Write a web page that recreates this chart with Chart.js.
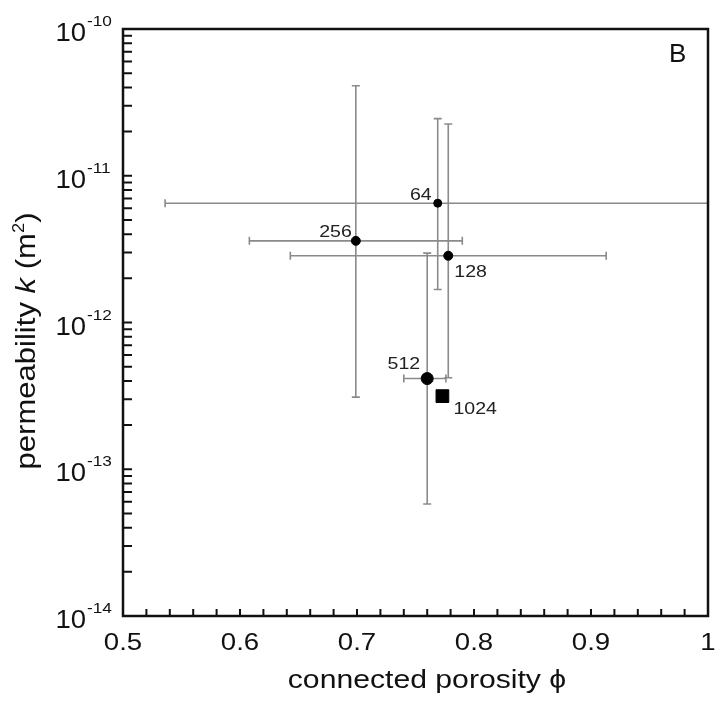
<!DOCTYPE html>
<html>
<head>
<meta charset="utf-8">
<script src="https://cdn.jsdelivr.net/npm/chart.js@4/dist/chart.umd.min.js"></script>
<style>
  html, body { margin: 0; padding: 0; background: #fff; }
  #wrap { width: 725px; height: 706px; }
</style>
</head>
<body>
<div id="wrap"><canvas id="permChart"></canvas></div>
<script>
// lattice size of each run
const runLabels = ['64', '128', '256', '512', '1024'];
// connected porosity and its error range
const porosity = [0.769, 0.778, 0.699, 0.760, 0.773];
const porosityLow = [0.536, 0.643, 0.608, 0.740, null];
const porosityHigh = [1.003, 0.913, 0.790, 0.776, null];
// permeability k (m^2) and its error range
const permeability = [6.5e-12, 2.85e-12, 3.6e-12, 4.15e-13, 3.15e-13];
const permLow = [1.68e-12, 4.2e-13, 3.1e-13, 5.8e-14, null];
const permHigh = [2.45e-11, 2.25e-11, 4.1e-11, 2.97e-12, null];
// axis tick labels
const xTickLabels = ['0.5', '0.6', '0.7', '0.8', '0.9', '1'];
const yTickExponents = [-14, -13, -12, -11, -10];

// marker look + where each run label sits relative to its point
const markerStyles = ['circle', 'circle', 'circle', 'circle', 'rect'];
const markerSizes = [4, 4.5, 4.5, 6, 9];
const labelOffsets = [[-6, -3, 'right'], [6, 21, 'left'], [-4, -4, 'right'], [-7, -10, 'right'], [11, 18, 'left']];

const FONT = '"Liberation Sans", Arial, Helvetica, sans-serif';

// draw a row of text pieces (for italics / superscripts), optionally stretched and rotated
function drawRuns(ctx, runs, x, y, align, sx, angle) {
  ctx.save();
  ctx.translate(x, y);
  if (angle) ctx.rotate(angle);
  ctx.scale(sx, 1);
  ctx.textAlign = 'left';
  ctx.textBaseline = 'alphabetic';
  let total = 0;
  runs.forEach(r => {
    r.font = (r.italic ? 'italic ' : '') + r.size + 'px ' + FONT;
    ctx.font = r.font;
    r.w = ctx.measureText(r.t).width;
    total += r.w;
  });
  let cx = align === 'center' ? -total / 2 : (align === 'right' ? -total : 0);
  runs.forEach(r => {
    ctx.font = r.font;
    ctx.fillText(r.t, cx, -(r.dy || 0));
    cx += r.w;
  });
  ctx.restore();
}

const errorBars = {
  id: 'errorBars',
  beforeDatasetsDraw(chart) {
    const { ctx, chartArea: a, scales: { x, y } } = chart;
    ctx.save();
    ctx.beginPath();
    ctx.rect(a.left, a.top, a.right - a.left, a.bottom - a.top);
    ctx.clip();
    ctx.strokeStyle = '#8a8a8a';
    ctx.lineWidth = 1.6;
    const cap = 4;
    porosity.forEach((px, i) => {
      const cxp = x.getPixelForValue(px);
      const cyp = y.getPixelForValue(permeability[i]);
      ctx.beginPath();
      if (porosityLow[i] != null) {
        const l = x.getPixelForValue(porosityLow[i]);
        const r = x.getPixelForValue(porosityHigh[i]);
        ctx.moveTo(l, cyp); ctx.lineTo(r, cyp);
        ctx.moveTo(l, cyp - cap); ctx.lineTo(l, cyp + cap);
        ctx.moveTo(r, cyp - cap); ctx.lineTo(r, cyp + cap);
      }
      if (permLow[i] != null) {
        const b = y.getPixelForValue(permLow[i]);
        const t = y.getPixelForValue(permHigh[i]);
        ctx.moveTo(cxp, b); ctx.lineTo(cxp, t);
        ctx.moveTo(cxp - cap, b); ctx.lineTo(cxp + cap, b);
        ctx.moveTo(cxp - cap, t); ctx.lineTo(cxp + cap, t);
      }
      ctx.stroke();
    });
    ctx.restore();
  },
  afterDatasetsDraw(chart) {
    const { ctx, scales: { x, y } } = chart;
    ctx.save();
    ctx.fillStyle = '#222';
    runLabels.forEach((lab, i) => {
      const o = labelOffsets[i];
      drawRuns(ctx, [{ t: lab, size: 17 }],
        x.getPixelForValue(porosity[i]) + o[0], y.getPixelForValue(permeability[i]) + o[1], o[2], 1.15);
    });
    ctx.restore();
  }
};

const frameAndAxes = {
  id: 'frameAndAxes',
  afterDraw(chart) {
    const { ctx, chartArea: a, scales: { x, y } } = chart;
    ctx.save();
    ctx.strokeStyle = '#111';
    ctx.fillStyle = '#111';
    // inward ticks on x
    ctx.lineWidth = 2;
    ctx.beginPath();
    x.ticks.forEach(t => {
      const px = x.getPixelForValue(t.value);
      ctx.moveTo(px, a.bottom); ctx.lineTo(px, a.bottom - 7);
    });
    // inward log ticks on y
    yTickExponents.forEach(e => {
      for (let m = 1; m <= 9; m++) {
        const v = m * Math.pow(10, e);
        if (v > y.max * 1.0001) continue;
        const py = y.getPixelForValue(v);
        ctx.moveTo(a.left, py); ctx.lineTo(a.left + 9, py);
      }
    });
    ctx.stroke();
    // frame
    ctx.lineWidth = 2.5;
    ctx.strokeRect(a.left, a.top, a.right - a.left, a.bottom - a.top);

    // x tick labels
    xTickLabels.forEach(s => {
      drawRuns(ctx, [{ t: s, size: 24 }], x.getPixelForValue(parseFloat(s)), 650, 'center', 1.15);
    });
    // y tick labels: 10 with superscript exponent
    yTickExponents.forEach(e => {
      const py = y.getPixelForValue(Math.pow(10, e));
      drawRuns(ctx, [{ t: '10', size: 25 }], 86, py + 12, 'right', 1.1);
      drawRuns(ctx, [{ t: String(e), size: 15 }], 87, py - 3, 'left', 1.15);
    });
    // axis titles
    drawRuns(ctx, [{ t: 'connected porosity \u03D5', size: 26 }], 427, 688, 'center', 1.16);
    drawRuns(ctx, [
      { t: 'permeability ', size: 27 },
      { t: 'k', size: 27, italic: true },
      { t: ' (m', size: 27 },
      { t: '2', size: 16, dy: 11 },
      { t: ')', size: 27 }
    ], 35, 341, 'center', 1.15, -Math.PI / 2);
    // panel letter
    drawRuns(ctx, [{ t: 'B', size: 26 }], 669, 62, 'left', 1.0);
    ctx.restore();
  }
};

const ctx = document.getElementById('permChart').getContext('2d');
new Chart(ctx, {
  type: 'scatter',
  data: {
    datasets: [{
      label: 'runs',
      data: porosity.map((p, i) => ({ x: p, y: permeability[i] })),
      pointStyle: markerStyles,
      pointRadius: markerSizes,
      pointBackgroundColor: '#000',
      pointBorderColor: '#000',
      pointBorderWidth: 1
    }]
  },
  options: {
    responsive: true,
    maintainAspectRatio: false,
    animation: false,
    layout: { padding: { top: 29, right: 17, left: 0, bottom: 0 } },
    plugins: { legend: { display: false }, tooltip: { enabled: false } },
    scales: {
      x: {
        type: 'linear',
        min: 0.5,
        max: 1,
        ticks: { display: false, stepSize: 0.02 },
        grid: { display: false },
        border: { display: false },
        afterFit(scale) { scale.height = 90; }
      },
      y: {
        type: 'logarithmic',
        min: 1e-14,
        max: 1e-10,
        ticks: { display: false },
        grid: { display: false },
        border: { display: false },
        afterFit(scale) { scale.width = 123; }
      }
    }
  },
  plugins: [errorBars, frameAndAxes]
});
</script>
</body>
</html>
